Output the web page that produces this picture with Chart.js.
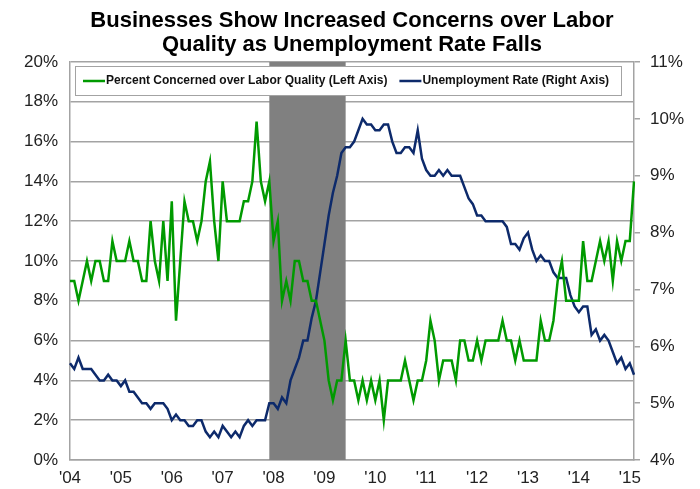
<!DOCTYPE html>
<html>
<head>
<meta charset="utf-8">
<script src="https://cdn.jsdelivr.net/npm/chart.js@4.4.0/dist/chart.umd.min.js"></script>
<style>
  html, body { margin: 0; padding: 0; background: #fff; }
  #wrap { width: 700px; height: 489px; }
</style>
</head>
<body>
<div id="wrap"><canvas id="myChart" width="700" height="489"></canvas></div>
<script>
var titleLines = ['Businesses Show Increased Concerns over Labor', 'Quality as Unemployment Rate Falls'];
var startYear = 2004;
var monthCount = 134; // Jan 2004 .. Feb 2015

// percent of firms citing quality of labor as top problem (left axis)
var concernedPct = [
  9, 9, 8, 9, 10, 9, 10, 10, 9, 9, 11, 10,
  10, 10, 11, 10, 10, 9, 9, 12, 10, 9, 12, 9,
  13, 7, 10, 13, 12, 12, 11, 12, 14, 15, 12, 10,
  14, 12, 12, 12, 12, 13, 13, 14, 17, 14, 13, 14,
  11, 12, 8, 9, 8, 10, 10, 9, 9, 8, 8, 7,
  6, 4, 3, 4, 4, 6, 4, 4, 3, 4, 3, 4,
  3, 4, 2, 4, 4, 4, 4, 5, 4, 3, 4, 4,
  5, 7, 6, 4, 5, 5, 5, 4, 6, 6, 5, 5,
  6, 5, 6, 6, 6, 6, 7, 6, 6, 5, 6, 5,
  5, 5, 5, 7, 6, 6, 7, 9, 10, 8, 8, 8,
  8, 11, 9, 9, 10, 11, 10, 11, 9, 11, 10, 11,
  11, 14
];

// unemployment rate (right axis)
var unemploymentRate = [
  5.7, 5.6, 5.8, 5.6, 5.6, 5.6, 5.5, 5.4, 5.4, 5.5, 5.4, 5.4,
  5.3, 5.4, 5.2, 5.2, 5.1, 5.0, 5.0, 4.9, 5.0, 5.0, 5.0, 4.9,
  4.7, 4.8, 4.7, 4.7, 4.6, 4.6, 4.7, 4.7, 4.5, 4.4, 4.5, 4.4,
  4.6, 4.5, 4.4, 4.5, 4.4, 4.6, 4.7, 4.6, 4.7, 4.7, 4.7, 5.0,
  5.0, 4.9, 5.1, 5.0, 5.4, 5.6, 5.8, 6.1, 6.1, 6.5, 6.8, 7.3,
  7.8, 8.3, 8.7, 9.0, 9.4, 9.5, 9.5, 9.6, 9.8, 10.0, 9.9, 9.9,
  9.8, 9.8, 9.9, 9.9, 9.6, 9.4, 9.4, 9.5, 9.5, 9.4, 9.8, 9.3,
  9.1, 9.0, 9.0, 9.1, 9.0, 9.1, 9.0, 9.0, 9.0, 8.8, 8.6, 8.5,
  8.3, 8.3, 8.2, 8.2, 8.2, 8.2, 8.2, 8.1, 7.8, 7.8, 7.7, 7.9,
  8.0, 7.7, 7.5, 7.6, 7.5, 7.5, 7.3, 7.2, 7.2, 7.2, 6.9, 6.7,
  6.6, 6.7, 6.7, 6.2, 6.3, 6.1, 6.2, 6.1, 5.9, 5.7, 5.8, 5.6,
  5.7, 5.5
];

// recession shading (Dec 2007 - Jun 2009)
var recessionStart = '2007-12';
var recessionEnd = '2009-06';

var GREEN = '#009a00';
var NAVY = '#0d2a6b';
var GRID = '#a3a3a3';
var FONT = "'Liberation Sans', Arial, sans-serif";

var monthLabels = [];
for (var i = 0; i < monthCount; i++) {
  var y = startYear + Math.floor(i / 12);
  var m = (i % 12) + 1;
  monthLabels.push(y + '-' + (m < 10 ? '0' + m : m));
}

var overlayPlugin = {
  id: 'overlay',
  beforeDatasetsDraw: function(chart) {
    var ctx = chart.ctx;
    var area = chart.chartArea;
    var x = chart.scales.x;

    // recession bar
    var x0 = x.getPixelForValue(monthLabels.indexOf(recessionStart));
    var x1 = x.getPixelForValue(monthLabels.indexOf(recessionEnd));
    ctx.save();
    ctx.fillStyle = '#808080';
    ctx.fillRect(x0, area.top, x1 - x0, area.bottom - area.top);

    // legend box inside the plot
    var bx = area.left + 5, by = area.top + 4, bw = 546, bh = 29;
    ctx.fillStyle = '#fff';
    ctx.fillRect(bx, by, bw, bh);
    ctx.strokeStyle = GRID;
    ctx.lineWidth = 1;
    ctx.strokeRect(bx + 0.5, by + 0.5, bw, bh);

    ctx.font = 'bold 12px ' + FONT;
    ctx.textBaseline = 'middle';
    var cx = bx + 8, cy = by + bh / 2 + 0.5;
    chart.data.datasets.forEach(function(ds) {
      ctx.strokeStyle = ds.borderColor;
      ctx.lineWidth = 2.5;
      ctx.beginPath();
      ctx.moveTo(cx, cy);
      ctx.lineTo(cx + 22, cy);
      ctx.stroke();
      ctx.fillStyle = '#111';
      ctx.fillText(ds.label, cx + 23, cy);
      cx += 23 + ctx.measureText(ds.label).width + 12;
    });
    ctx.restore();
  },
  afterDraw: function(chart) {
    var ctx = chart.ctx;
    ctx.save();
    ctx.font = 'bold 22px ' + FONT;
    ctx.fillStyle = '#000';
    ctx.textAlign = 'center';
    ctx.textBaseline = 'middle';
    ctx.fillText(titleLines[0], 352, 21);
    ctx.fillText(titleLines[1], 352, 45);
    ctx.restore();
  }
};

var ctx = document.getElementById('myChart').getContext('2d');
window.myLineChart = new Chart(ctx, {
  type: 'line',
  data: {
    labels: monthLabels,
    datasets: [{
      label: 'Percent Concerned over Labor Quality (Left Axis)',
      data: concernedPct,
      yAxisID: 'yLeft',
      borderColor: GREEN,
      borderWidth: 2.5,
      pointRadius: 0,
      tension: 0
    }, {
      label: 'Unemployment Rate (Right Axis)',
      data: unemploymentRate,
      yAxisID: 'yRight',
      borderColor: NAVY,
      borderWidth: 2.5,
      pointRadius: 0,
      tension: 0
    }]
  },
  options: {
    responsive: false,
    animation: false,
    devicePixelRatio: 1,
    layout: { padding: { top: 62, left: 0, right: 0, bottom: 0 } },
    plugins: {
      legend: { display: false },
      title: { display: false },
      tooltip: { enabled: false }
    },
    scales: {
      x: {
        type: 'category',
        offset: false,
        grid: { display: false, drawTicks: false },
        border: { display: true, color: GRID, width: 1.5 },
        ticks: {
          autoSkip: false,
          maxRotation: 0,
          padding: 8,
          color: '#222',
          font: { family: FONT, size: 17 },
          callback: function(val, idx) {
            return idx % 12 === 0 ? "'" + String(startYear + idx / 12).slice(2) : '';
          }
        },
        afterFit: function(scale) { scale.height = 29; }
      },
      yLeft: {
        position: 'left',
        min: 0,
        max: 20,
        grid: { color: GRID, lineWidth: 1.5, drawTicks: false },
        border: { display: true, color: GRID, width: 1.5 },
        ticks: {
          stepSize: 2,
          padding: 12,
          color: '#222',
          font: { family: FONT, size: 17 },
          callback: function(v) { return v + '%'; }
        },
        afterFit: function(scale) { scale.width = 70; }
      },
      yRight: {
        position: 'right',
        min: 4,
        max: 11,
        grid: { drawOnChartArea: false, color: GRID, lineWidth: 1.5, tickLength: 6 },
        border: { display: true, color: GRID, width: 1.5 },
        ticks: {
          stepSize: 1,
          padding: 10,
          color: '#222',
          font: { family: FONT, size: 17 },
          callback: function(v) { return v + '%'; }
        },
        afterFit: function(scale) { scale.width = 66; }
      }
    }
  },
  plugins: [overlayPlugin]
});
</script>
</body>
</html>
